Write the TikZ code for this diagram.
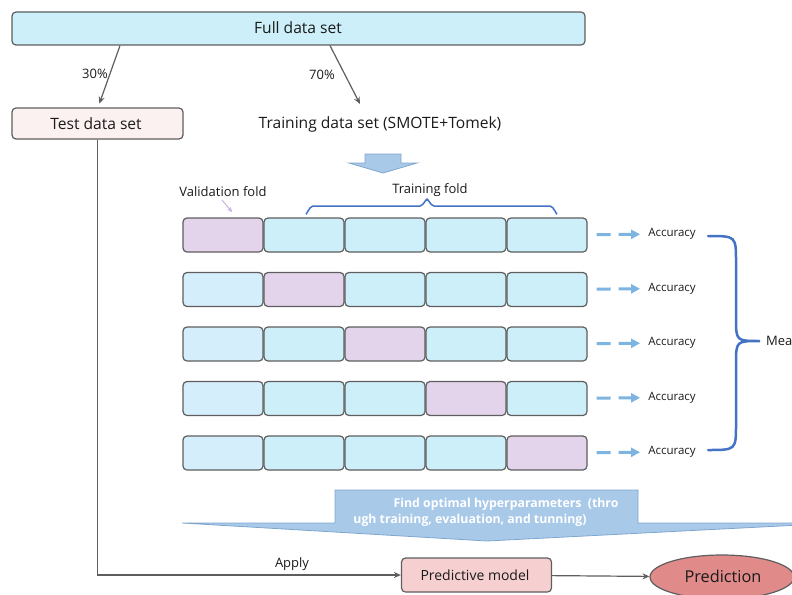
\documentclass[tikz,border=0pt]{standalone}
\usepackage{fontspec}
\setmainfont{Open Sans}
\usetikzlibrary{arrows.meta,shapes.geometric}
\definecolor{cyanfill}{HTML}{CDEFF9}
\definecolor{lbluefill}{HTML}{D5EEFB}
\definecolor{purplefill}{HTML}{E3D4EC}
\definecolor{bordergray}{HTML}{5E5E5E}
\definecolor{pinkfill}{HTML}{FCF1F1}
\definecolor{pmfill}{HTML}{F6D0D0}
\definecolor{predfill}{HTML}{E08A8A}
\definecolor{bafill}{HTML}{A9C9E9}
\definecolor{baborder}{HTML}{7FA6D0}
\definecolor{braceblue}{HTML}{4472C4}
\definecolor{dashblue}{HTML}{7EB4E2}
\definecolor{valarrow}{HTML}{C9B3E0}
\definecolor{txt}{HTML}{1A1A1A}
\tikzset{
  box/.style={draw=bordergray, line width=1.2pt, rounded corners=4pt, inner sep=0pt, text=txt},
  fold/.style={box, minimum width=80pt, minimum height=34pt},
  tfold/.style={fold, fill=cyanfill},
  lfold/.style={fold, fill=lbluefill},
  vfold/.style={fold, fill=purplefill},
  lbl/.style={font=\fontsize{15.6}{18}\selectfont, text=txt, inner sep=0pt},
  small/.style={font=\fontsize{13}{15}\selectfont, text=txt, inner sep=0pt},
  acc/.style={font=\fontsize{11.5}{13}\selectfont, text=txt, inner sep=0pt},
  arr/.style={draw=bordergray, line width=1.2pt, -{Stealth[length=7pt,width=6pt]}},
  dasharrow/.style={draw=dashblue, line width=3pt, dash pattern=on 14pt off 8pt, -{Triangle[length=9pt,width=9pt]}},
  bracestyle/.style={draw=braceblue, line width=2.5pt, line cap=round},
  whitebold/.style={font=\bfseries\fontsize{12.3}{14}\selectfont, text=white, inner sep=0pt},
}
\begin{document}
\begin{tikzpicture}[x=1pt,y=-1pt]
\useasboundingbox (0,0) rectangle (792,594);
% top boxes
\node[box, fill=cyanfill, minimum width=573pt, minimum height=33pt] (full) at (298.5,28.5) {};
\node[lbl] (fulltxt) at (298,27.5) {Full data set};
\node[box, fill=pinkfill, minimum width=171pt, minimum height=31pt] (test) at (97.5,123.5) {};
\node[lbl] (testtxt) at (96,124) {Test data set};
\node[lbl] (train) at (380,124) {Training data set (SMOTE+Tomek)};
\draw[arr, shorten >=4pt] (full.south -| 120,0) -- (test.north -| 98,0);
\draw[arr] (full.south -| 330,0) -- (360,104);
\node[small] (p30) at (95,74) {30\%};
\node[small] (p70) at (322,75) {70\%};
% small block arrow
\draw[fill=bafill, draw=baborder, line width=0.8pt] (365,154) -- (401,154) -- (401,163) -- (417,163) -- (383,173) -- (349,163) -- (365,163) -- cycle;
% labels above folds
\node[small] (valtxt) at (223,192) {Validation fold};
\node[small] (trtxt) at (430,190) {Training fold};
\draw[draw=valarrow, line width=1pt, -{Stealth[length=5pt,width=5pt]}] (222,200) -- (232,212);
\draw[draw=braceblue, line width=1.5pt] (306,213) to[out=-90,in=180] (313,206) -- (420,206) to[out=0,in=90] (427,200) to[out=90,in=180] (434,206) -- (550,206) to[out=0,in=-90] (557,213);
% folds
\foreach \r/\y in {1/235,2/289.5,3/344,4/398.5,5/453}{
  \foreach \c/\x in {1/223,2/304,3/385,4/466,5/547}{
    \ifnum\c=\r
      \node[vfold] (f\r\c) at (\x,\y) {};
    \else
      \ifnum\c=1
        \node[lfold] (f\r\c) at (\x,\y) {};
      \else
        \node[tfold] (f\r\c) at (\x,\y) {};
      \fi
    \fi
  }
  \node[acc] (acc\r) at (672,\y-1) {Accuracy};
  \draw[dasharrow, shorten <=9pt, shorten >=8pt] (f\r5) -- (acc\r);
}
% right brace
\draw[bracestyle] (708,236) .. controls (736,236) .. (736,262) -- (736,318) .. controls (736,341) .. (760,341) .. controls (736,341) .. (736,364) -- (736,424) .. controls (736,450) .. (708,450);
\node[small, anchor=west] (mean) at (766,341) {Mean};
% big block arrow
\draw[fill=bafill, draw=baborder, line width=0.8pt] (335,490) -- (638,490) -- (638,523) -- (800,523) -- (800,525) -- (487,541) -- (182,523) -- (335,523) -- cycle;
\node[whitebold] (fo1) at (506,504) {Find optimal hyperparameters\ \ (thro};
\node[whitebold] (fo2) at (470,520) {ugh training, evaluation, and tunning)};
% bottom
\node[box, fill=pmfill, minimum width=150pt, minimum height=34pt] (pm) at (476.5,575) {};
\node[font=\fontsize{14}{16}\selectfont, text=txt, inner sep=0pt] (pmtxt) at (475,575) {Predictive model};
\node[ellipse, draw=bordergray, line width=1.2pt, fill=predfill, minimum width=144pt, minimum height=44pt, inner sep=0pt] (pred) at (722,577) {};
\node[font=\fontsize{16.3}{19}\selectfont, text=txt, inner sep=0pt] (predtxt) at (723,576) {Prediction};
\draw[arr] (test) |- (pm);
\node[small] (apply) at (292,564) {Apply};
\draw[arr] (pm) -- (pred);
\end{tikzpicture}
\end{document}
